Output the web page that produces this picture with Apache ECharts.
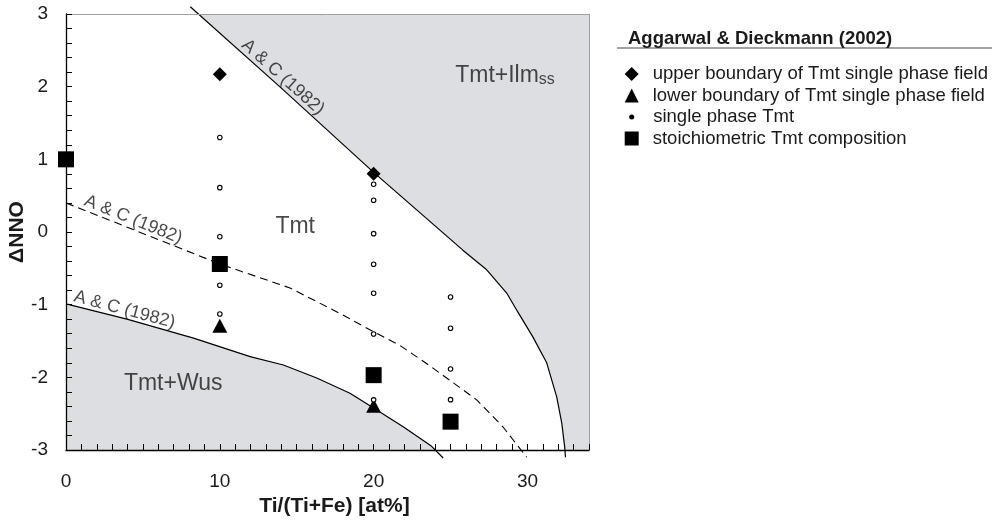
<!DOCTYPE html>
<html><head><meta charset="utf-8">
<script src="https://cdn.jsdelivr.net/npm/echarts@6/dist/echarts.min.js"></script>
<style>html,body{margin:0;padding:0;background:#fff}#c{width:992px;height:527px}</style>
</head><body><div id="c"></div>
<script>
// ---- data ----
const xTickLabels = [0, 10, 20, 30];
const yTickLabels = [-3, -2, -1, 0, 1, 2, 3];
const upperBoundary = [[10, 2.17], [20, 0.80]];
const lowerBoundary = [[10, -1.29], [20, -2.39]];
const singlePhase = [[10, 1.30], [10, 0.61], [10, -0.065], [10, -0.733], [10, -1.128],
  [20, 0.657], [20, 0.436], [20, -0.023], [20, -0.444], [20, -0.843], [20, -1.403], [20, -2.31],
  [25, -0.894], [25, -1.325], [25, -1.885], [25, -2.307]];
const stoichiometric = [[0, 1.0], [10, -0.44], [20, -1.97], [25, -2.61]];
const acUpper = [[8.08, 3.1], [14, 1.98], [20, 0.82], [25.8, -0.25], [27.35, -0.52], [28.65, -0.84],
  [29.37, -1.10], [30.34, -1.44], [31.25, -1.80], [31.9, -2.27], [32.23, -2.63], [32.42, -2.96], [32.47, -3.1]];
const acDashed = [[0, 0.40], [10, -0.44], [14.56, -0.77], [17.8, -1.12], [19.97, -1.37], [21.7, -1.56],
  [23.44, -1.81], [24.95, -2.04], [26.7, -2.31], [28.4, -2.68], [29.95, -3.1]];
const acLower = [[0, -0.99], [3.96, -1.2], [8.29, -1.46], [11.97, -1.715], [14.13, -1.83], [16.3, -2.01],
  [18.46, -2.22], [19.97, -2.42], [21.92, -2.68], [23.77, -2.95], [24.52, -3.11]];
const regionLabels = [{ name: 'Tmt', value: [14.9, 0.07] }, { name: 'Tmt+Wus', value: [6.97, -2.09] }];
const ilmLabel = [{ name: 'Tmt+Ilm', value: [25.3, 2.15] }];
const acLabels = [[14.1, 2.13, -41.8], [4.37, 0.17, -22], [3.8, -1.07, -15]];
const legendNames = ['upper boundary of Tmt single phase field', 'lower boundary of Tmt single phase field',
  'single phase Tmt', 'stoichiometric Tmt composition'];
const legendTitle = 'Aggarwal & Dieckmann (2002)';

const X_MIN = 0, X_MAX = 34, Y_MIN = -3, Y_MAX = 3;
const FONT = 'Liberation Sans, Arial, sans-serif';
const TXT = '#1a1a1a';
const FILL = '#dddee1';

const chart = echarts.init(document.getElementById('c'));
const near = (arr, v) => arr.some(t => Math.abs(t - v) < 1e-6);
const legendRowTop = [64.5, 86, 107.5, 129];

const option = {
  animation: false,
  textStyle: { fontFamily: FONT },
  grid: { left: 66, right: 403, top: 14, bottom: 77, show: true, backgroundColor: '#fff', borderWidth: 0,
    containLabel: false, outerBoundsMode: 'none' },
  title: { text: legendTitle, left: 628, top: 29, padding: 0,
    textStyle: { fontFamily: FONT, fontSize: 18.5, fontWeight: 'bold', color: TXT } },
  graphic: [{ type: 'line', shape: { x1: 617, y1: 48, x2: 992, y2: 48 }, style: { stroke: '#444', lineWidth: 1 } }],
  legend: legendNames.map((n, i) => ({
    data: [i === 2 ? { name: n, icon: 'circle', itemStyle: { color: '#000', borderWidth: 0 } } : { name: n }],
    left: i === 2 ? 629.2 : 624.7,
    top: legendRowTop[i], padding: 0,
    itemWidth: i === 2 ? 5 : 14, itemHeight: i === 2 ? 5 : 14,
    selectedMode: false,
    textStyle: { fontFamily: FONT, fontSize: 18.5, color: TXT, padding: i === 2 ? [0, 0, 0, 14] : [0, 0, 0, 9] }
  })),
  xAxis: [{
    type: 'value', min: X_MIN, max: X_MAX, interval: 1, z: 10,
    axisLine: { onZero: false, lineStyle: { color: '#000', width: 1.3 } },
    axisTick: { inside: true, length: 6, lineStyle: { color: '#000' } },
    splitLine: { show: false },
    axisLabel: { fontSize: 19, color: TXT, margin: 22, formatter: v => near(xTickLabels, v) ? String(Math.round(v)) : '' },
    name: 'Ti/(Ti+Fe) [at%]', nameLocation: 'middle', nameGap: 46, nameMoveOverlap: false,
    nameTextStyle: { fontSize: 21, fontWeight: 'bold', color: TXT, fontFamily: FONT, padding: [0, 0, 0, 14] }
  }, {
    type: 'value', position: 'top', min: X_MIN, max: X_MAX, z: 10,
    axisLine: { show: true, onZero: false, lineStyle: { color: '#a0a0a0' } }, axisTick: { show: false }, axisLabel: { show: false }, splitLine: { show: false }
  }],
  yAxis: [{
    type: 'value', min: Y_MIN, max: Y_MAX, interval: 0.2, z: 10,
    axisLine: { show: true, onZero: false, lineStyle: { color: '#000', width: 1.3 } },
    axisTick: { show: true, inside: true, length: 6, lineStyle: { color: '#000' } },
    splitLine: { show: false },
    axisLabel: { fontSize: 19, color: TXT, margin: 18, formatter: v => near(yTickLabels, v) ? String(Math.round(v)) : '' },
    name: 'ΔNNO', nameLocation: 'middle', nameRotate: 90, nameGap: 38, nameMoveOverlap: false,
    nameTextStyle: { fontSize: 21, fontWeight: 'bold', color: TXT, fontFamily: FONT }
  }, {
    type: 'value', position: 'right', min: Y_MIN, max: Y_MAX, z: 10,
    axisLine: { show: true, onZero: false, lineStyle: { color: '#a0a0a0' } }, axisTick: { show: false }, axisLabel: { show: false }, splitLine: { show: false }
  }],
  series: [
    { type: 'line', name: 'fillUpper', data: acUpper.concat([[X_MAX, Y_MIN]]), symbol: 'none', silent: true, z: 1,
      lineStyle: { width: 0 }, areaStyle: { color: FILL, opacity: 1, origin: 'end' } },
    { type: 'line', name: 'fillLower', data: acLower, symbol: 'none', silent: true, z: 1,
      lineStyle: { width: 0 }, areaStyle: { color: FILL, opacity: 1, origin: 'start' } },
    { type: 'line', name: 'acUpper', data: acUpper, symbol: 'none', silent: true, z: 3, clip: false, lineStyle: { color: '#000', width: 1.2 } },
    { type: 'line', name: 'acDashed', data: acDashed, symbol: 'none', silent: true, z: 3, clip: false, lineStyle: { color: '#000', width: 1.1, type: [8, 5] } },
    { type: 'line', name: 'acLower', data: acLower, symbol: 'none', silent: true, z: 3, clip: false, lineStyle: { color: '#000', width: 1.2 } },
    { type: 'scatter', name: legendNames[0], data: upperBoundary, symbol: 'diamond', symbolSize: 14, z: 6, itemStyle: { color: '#000', opacity: 1 } },
    { type: 'scatter', name: legendNames[1], data: lowerBoundary, symbol: 'triangle', symbolSize: [15, 14], z: 6, itemStyle: { color: '#000', opacity: 1 } },
    { type: 'scatter', name: legendNames[2], data: singlePhase, symbol: 'circle', symbolSize: 4.5, z: 7,
      itemStyle: { color: '#fff', borderColor: '#000', borderWidth: 1.1, opacity: 1 } },
    { type: 'scatter', name: legendNames[3], data: stoichiometric, symbol: 'rect', symbolSize: 16, z: 6, itemStyle: { color: '#000', opacity: 1 } },
    { type: 'scatter', name: 'regionText', data: regionLabels, symbolSize: 0, silent: true, z: 8,
      label: { show: true, position: [0, 0], align: 'center', verticalAlign: 'middle', formatter: p => p.name,
        fontSize: 23, color: TXT, fontFamily: FONT } },
    { type: 'scatter', name: 'ilmText', data: ilmLabel, symbolSize: 0, silent: true, z: 8,
      label: { show: true, position: [0, 0], align: 'left', verticalAlign: 'middle', formatter: '{a|Tmt+Ilm}{b|ss}',
        rich: { a: { fontSize: 23, color: TXT, fontFamily: FONT, lineHeight: 24 },
                b: { fontSize: 16, color: TXT, fontFamily: FONT, lineHeight: 10, verticalAlign: 'bottom' } } } },
    ...acLabels.map((d, i) => ({
      type: 'scatter', name: 'acText' + i, data: [[d[0], d[1]]], symbolSize: 0, silent: true, z: 8,
      label: { show: true, position: [0, 0], align: 'center', verticalAlign: 'middle', rotate: d[2],
        formatter: 'A & C (1982)', fontSize: 18, color: TXT, fontFamily: FONT }
    }))
  ]
};
chart.setOption(option);
</script></body></html>
